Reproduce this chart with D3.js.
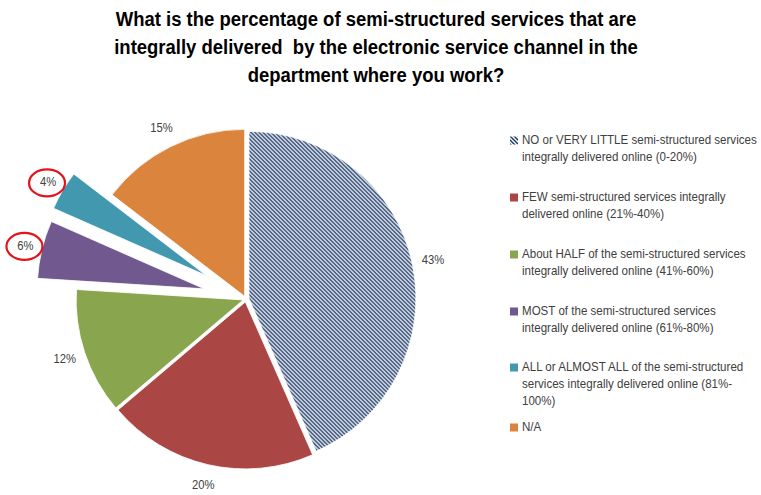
<!DOCTYPE html>
<html><head><meta charset="utf-8">
<script src="https://cdn.jsdelivr.net/npm/d3@7"></script>
<style>
body{margin:0;background:#fff}
svg{display:block}
text{white-space:pre}
</style>
</head><body>
<svg id="chart" width="761" height="495"></svg>
<script>
// ---------- data ----------
const titleLines = [
  "What is the percentage of semi-structured services that are",
  "integrally delivered  by the electronic service channel in the",
  "department where you work?"
];
const categories = [
  "NO or VERY LITTLE semi-structured services integrally delivered online (0-20%)",
  "FEW semi-structured services integrally delivered online (21%-40%)",
  "About HALF of the semi-structured services integrally delivered online (41%-60%)",
  "MOST of the semi-structured services integrally delivered online (61%-80%)",
  "ALL or ALMOST ALL of the semi-structured services integrally delivered online (81%-100%)",
  "N/A"
];
const legendLines = [
  ["NO or VERY LITTLE semi-structured services", "integrally delivered online (0-20%)"],
  ["FEW semi-structured services integrally", "delivered online (21%-40%)"],
  ["About HALF of the semi-structured services", "integrally delivered online (41%-60%)"],
  ["MOST of the semi-structured services", "integrally delivered online (61%-80%)"],
  ["ALL or ALMOST ALL of the semi-structured", "services integrally delivered online (81%-", "100%)"],
  ["N/A"]
];
const values = [43.4, 20.4, 12.2, 5.6, 3.8, 14.6];   // percent
const highlighted = [false, false, false, true, true, false];

// ---------- styles ----------
const colors = ["url(#hatch)", "#AA4644", "#89A54E", "#71588F", "#4198AF", "#DB843D"];
const cx = 246, cy = 299, R = 167;
const smallExplode = 3;
const bigExplode = [0, 0, 0, 43, 46, 0];
const textColor = "#404040";
const fontFam = "'Liberation Sans', Arial, sans-serif";

const svg = d3.select("#chart");
const defs = svg.append("defs");
const pat = defs.append("pattern")
  .attr("id", "hatch").attr("patternUnits", "userSpaceOnUse")
  .attr("width", 4).attr("height", 4);
pat.append("rect").attr("width", 4).attr("height", 4).attr("fill", "#ffffff");
pat.append("path").attr("d", "M-1,-1 L5,5 M-1,3 L1,5 M3,-1 L5,1")
  .attr("stroke", "#1F3B6A").attr("stroke-width", 1.5).attr("fill", "none");

// ---------- title ----------
const title = svg.append("g").attr("font-family", fontFam).attr("font-weight", "bold")
  .attr("font-size", 21).attr("fill", "#000");
const tg = title.selectAll("g").data(titleLines).join("g");
const tl = tg.append("text").attr("x", 0).attr("y", 0)
  .attr("text-anchor", "middle").text(d => d);
const kT = 521 / tl.nodes()[0].getComputedTextLength();
tg.attr("transform", (d, i) => `translate(376,${26 + i * 28}) scale(${kT},1)`);

// ---------- pie ----------
const pie = d3.pie().sort(null).value(d => d)(values);
const arc = d3.arc().innerRadius(0).outerRadius(R);
function offset(d, i) {
  const m = (d.startAngle + d.endAngle) / 2;
  const e = highlighted[i] ? bigExplode[i] : smallExplode;
  return [Math.sin(m) * e, -Math.cos(m) * e];
}
const slices = svg.append("g").attr("transform", `translate(${cx},${cy})`);
slices.selectAll("path").data(pie).join("path")
  .attr("d", arc)
  .attr("transform", (d, i) => { const o = offset(d, i); return `translate(${o[0]},${o[1]})`; })
  .attr("fill", (d, i) => colors[i])
  .attr("stroke", "#fff").attr("stroke-width", 0.8);

// labels
const fmt = d3.format(".0f");
const labG = svg.append("g").attr("transform", `translate(${cx},${cy})`)
  .attr("font-family", fontFam).attr("font-size", 12.5).attr("fill", textColor);
const labPos = pie.map((d, i) => {
  const m = (d.startAngle + d.endAngle) / 2;
  const o = offset(d, i);
  const lr = highlighted[i] ? R + 17 : R + 21;
  return [o[0] + Math.sin(m) * lr, o[1] - Math.cos(m) * lr];
});
labG.selectAll("text").data(pie).join("text")
  .attr("transform", (d, i) => `translate(${labPos[i][0]},${labPos[i][1]}) scale(0.9,1)`)
  .attr("text-anchor", "middle").attr("dominant-baseline", "central")
  .text(d => fmt(d.data) + "%");
// red highlight circles
labG.selectAll("ellipse").data(pie.filter((d, i) => highlighted[i])).join("ellipse")
  .attr("cx", d => labPos[d.index][0] - 1).attr("cy", d => labPos[d.index][1] + 1)
  .attr("rx", 18).attr("ry", 13.5)
  .attr("fill", "none").attr("stroke", "#E3141C").attr("stroke-width", 2.2);

// ---------- legend ----------
const legendY = [140, 197, 254, 311, 367, 427];
const lg = svg.append("g").attr("font-family", fontFam).attr("font-size", 12.5).attr("fill", textColor);
const items = lg.selectAll("g.item").data(categories).join("g").attr("class", "item")
  .attr("transform", (d, i) => `translate(510,${legendY[i]})`);
items.append("rect").attr("x", 0).attr("y", -3.5).attr("width", 8).attr("height", 8)
  .attr("fill", (d, i) => colors[i]);
const tgrp = items.append("g").attr("transform", "translate(12,0)");
const lt = tgrp.append("text").attr("dominant-baseline", "central");
lt.selectAll("tspan").data((d, i) => legendLines[i]).join("tspan")
  .attr("x", 0).attr("y", (d, j) => j * 17).text(d => d);
const refW = lt.nodes()[0].querySelector("tspan").getComputedTextLength();
const kL = 235 / refW;
tgrp.attr("transform", `translate(12,0) scale(${kL},1)`);
</script>
</body></html>
